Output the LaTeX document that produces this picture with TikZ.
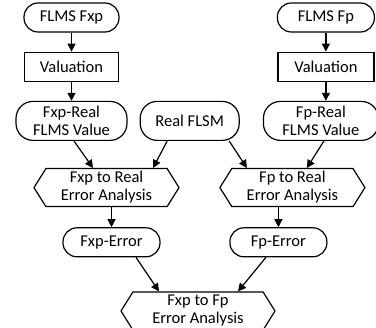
\documentclass[tikz,border=0pt]{standalone}
\usepackage{fontspec}
\setmainfont{Carlito}
\usepackage{tikz}
\usetikzlibrary{positioning,shapes,shapes.symbols,arrows.meta}

\begin{document}
\begin{tikzpicture}[%
        x=1pt,y=1pt,
        -{Triangle[length=8pt,width=8pt]},
        line width=1.2pt,
        node distance=19pt,
        every node/.style={%
          font=\fontsize{16.5}{18}\selectfont,
          align=center,
          inner sep=0pt
        },
        term/.style={%
          draw,
          rounded corners=14pt,
          minimum height=29pt
        },
        termtwo/.style={%
          draw,
          rounded corners=17pt,
          minimum height=39pt
        },
        proc/.style={%
          draw,
          minimum height=29pt
        },
        analysis/.style={%
          draw,
          signal,
          signal to=west and east,
          signal pointer angle=116,
          minimum height=38pt
        }
      ]
      \useasboundingbox (0,0) rectangle (376,-328);
      \node[term,minimum width=95pt] (fxp) at (71.5,-17.5) {FLMS Fxp};
      \node[proc,minimum width=94pt] (valfxp) [below=of fxp] {Valuation};
      \node[termtwo,minimum width=111pt] (fxpreal) [below=of valfxp] {Fxp-Real\\FLMS Value};
      \node[termtwo,minimum width=99pt] (realflsm) [right=12pt of fxpreal] {Real FLSM};
      \node[termtwo,minimum width=115pt] (fpreal) [right=23pt of realflsm] {Fp-Real\\FLMS Value};
      \node[proc,minimum width=96pt] (valfp) [above=of fpreal,xshift=5pt] {Valuation};
      \node[term,minimum width=97pt] (fp) [above=of valfp] {FLMS Fp};
      \node[analysis,minimum width=145pt] (fxpana) [below=27pt of fxpreal,xshift=35pt] {Fxp to Real\\Error Analysis};
      \node[analysis,minimum width=145pt] (fpana) [below=27pt of fpreal,xshift=-28.5pt] {Fp to Real\\Error Analysis};
      \node[term,minimum width=97pt] (fxperr) [below=20pt of fxpana,xshift=5pt] {Fxp-Error};
      \node[term,minimum width=97pt] (fperr) [below=20pt of fpana,xshift=-14pt] {Fp-Error};
      \node[analysis,minimum width=154pt] (final) [below=34pt of fxperr,xshift=86.5pt] {Fxp to Fp\\Error Analysis};

      \path (fxp) edge (valfxp)
      (valfxp) edge (fxpreal)
      (fp) edge (valfp)
      (valfp) edge (valfp.south |- fpreal.north)
      ([xshift=2.5pt]fxpreal.south) edge ([xshift=-13.5pt]fxpana.north)
      ([xshift=-22.5pt]realflsm.south) edge ([xshift=46.5pt]fxpana.north)
      ([xshift=39.5pt]realflsm.south) edge ([xshift=-45.5pt]fpana.north)
      ([xshift=3pt]fpreal.south) edge ([xshift=14.5pt]fpana.north)
      (fxpana.south -| fxperr.north) edge (fxperr)
      (fpana.south -| fperr.north) edge (fperr)
      ([xshift=24.5pt]fxperr.south) edge ([xshift=-39pt]final.north)
      ([xshift=-12.5pt]fperr.south) edge ([xshift=40pt]final.north);

    \end{tikzpicture}
\end{document}
